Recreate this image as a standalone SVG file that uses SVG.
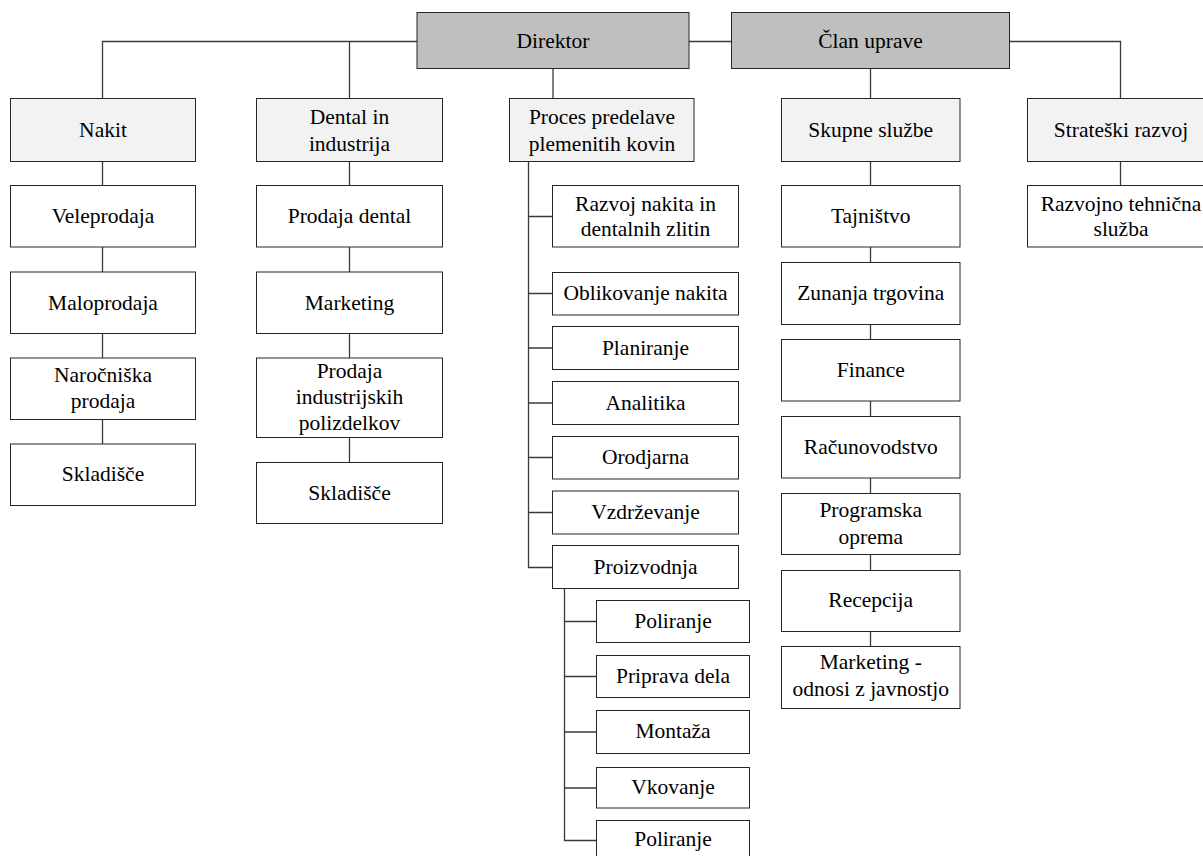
<svg xmlns="http://www.w3.org/2000/svg" width="1203" height="856" viewBox="0 0 1203 856">
<style>
.c{fill:none;stroke:#3a3a3a;stroke-width:1.3}
.b{fill:#ffffff;stroke:#262626;stroke-width:1}
.t0{fill:#bfbfbf;stroke:#262626;stroke-width:1}
.l2{fill:#f2f2f2;stroke:#262626;stroke-width:1}
.n text{fill:#000;text-anchor:middle}
</style>
<rect x="0" y="0" width="1203" height="856" fill="#ffffff"/>
<g id="connectors">
<path class="c" d="M102.5 98.5 V41.5 H417"/>
<path class="c" d="M349.5 41.5 V98.5"/>
<path class="c" d="M689 41.5 H731.5"/>
<path class="c" d="M553 68.5 V98.5"/>
<path class="c" d="M870.5 68.5 V98.5"/>
<path class="c" d="M1009.5 41.5 H1120.5 V98.5"/>
<path class="c" d="M102.5 161.5 V444"/>
<path class="c" d="M349.5 161.5 V462.5"/>
<path class="c" d="M528.5 161.5 V567.5 H552.5 M528.5 216.5 H552.5 M528.5 293.5 H552.5 M528.5 348 H552.5 M528.5 403 H552.5 M528.5 457.5 H552.5 M528.5 512.5 H552.5"/>
<path class="c" d="M564.5 588.5 V840.5 H596.5 M564.5 621.5 H596.5 M564.5 676.5 H596.5 M564.5 732 H596.5 M564.5 788 H596.5"/>
<path class="c" d="M870.5 161.5 V646.5"/>
<path class="c" d="M1120.5 161.5 V185.5"/>
</g>
<g class="n" font-family="'Liberation Serif', 'Times New Roman', 'DejaVu Serif', serif" font-size="21.5">
<g id="direktor"><rect class="t0" x="417" y="12.5" width="272" height="56"/><text x="553" y="47.5">Direktor</text></g>
<g id="clan-uprave"><rect class="t0" x="731.5" y="12.5" width="278" height="56"/><text x="870.5" y="47.5">Član uprave</text></g>

<g id="nakit"><rect class="l2" x="10.5" y="98.5" width="185" height="63"/><text x="103" y="137">Nakit</text></g>
<g id="dental"><rect class="l2" x="256.5" y="98.5" width="186" height="63"/><text x="349.5" y="124">Dental in</text><text x="349.5" y="151">industrija</text></g>
<g id="proces"><rect class="l2" x="509.5" y="98.5" width="184.5" height="63"/><text x="602" y="124">Proces predelave</text><text x="602" y="151">plemenitih kovin</text></g>
<g id="skupne"><rect class="l2" x="781.5" y="98.5" width="178.5" height="63"/><text x="870.75" y="137">Skupne službe</text></g>
<g id="strateski"><rect class="l2" x="1027.5" y="98.5" width="186" height="63"/><text x="1121" y="137">Strateški razvoj</text></g>

<g id="veleprodaja"><rect class="b" x="10.5" y="185.5" width="185" height="61.5"/><text x="103" y="223.3">Veleprodaja</text></g>
<g id="maloprodaja"><rect class="b" x="10.5" y="272" width="185" height="61.5"/><text x="103" y="309.5">Maloprodaja</text></g>
<g id="narocniska"><rect class="b" x="10.5" y="358" width="185" height="61.5"/><text x="103" y="382">Naročniška</text><text x="103" y="408">prodaja</text></g>
<g id="skladisce1"><rect class="b" x="10.5" y="444" width="185" height="61.5"/><text x="103" y="480.5">Skladišče</text></g>

<g id="prodaja-dental"><rect class="b" x="256.5" y="185.5" width="186" height="61.5"/><text x="349.5" y="223.3">Prodaja dental</text></g>
<g id="marketing1"><rect class="b" x="256.5" y="272" width="186" height="61.5"/><text x="349.5" y="309.5">Marketing</text></g>
<g id="prodaja-ind"><rect class="b" x="256.5" y="358" width="186" height="79.5"/><text x="349.5" y="377.5">Prodaja</text><text x="349.5" y="404">industrijskih</text><text x="349.5" y="430">polizdelkov</text></g>
<g id="skladisce2"><rect class="b" x="256.5" y="462.5" width="186" height="61"/><text x="349.5" y="499.5">Skladišče</text></g>

<g id="razvoj"><rect class="b" x="552.5" y="185.5" width="186" height="61.5"/><text x="645.5" y="210.5">Razvoj nakita in</text><text x="645.5" y="236">dentalnih zlitin</text></g>
<g id="oblikovanje"><rect class="b" x="552.5" y="272.5" width="186" height="42.5"/><text x="645.5" y="300">Oblikovanje nakita</text></g>
<g id="planiranje"><rect class="b" x="552.5" y="326.5" width="186" height="43"/><text x="645.5" y="354.5">Planiranje</text></g>
<g id="analitika"><rect class="b" x="552.5" y="381.5" width="186" height="43"/><text x="645.5" y="409.5">Analitika</text></g>
<g id="orodjarna"><rect class="b" x="552.5" y="436.5" width="186" height="42.5"/><text x="645.5" y="464">Orodjarna</text></g>
<g id="vzdrzevanje"><rect class="b" x="552.5" y="491" width="186" height="43"/><text x="645.5" y="519">Vzdrževanje</text></g>
<g id="proizvodnja"><rect class="b" x="552.5" y="545.5" width="186" height="43"/><text x="645.5" y="574">Proizvodnja</text></g>

<g id="poliranje1"><rect class="b" x="596.5" y="600.5" width="153" height="42"/><text x="673" y="628">Poliranje</text></g>
<g id="priprava"><rect class="b" x="596.5" y="655.5" width="153" height="42"/><text x="673" y="683">Priprava dela</text></g>
<g id="montaza"><rect class="b" x="596.5" y="710.5" width="153" height="43"/><text x="673" y="738">Montaža</text></g>
<g id="vkovanje"><rect class="b" x="596.5" y="767.5" width="153" height="40.5"/><text x="673" y="793.5">Vkovanje</text></g>
<g id="poliranje2"><rect class="b" x="596.5" y="820.5" width="153" height="42"/><text x="673" y="846">Poliranje</text></g>

<g id="tajnistvo"><rect class="b" x="781.5" y="185.5" width="178.5" height="61.5"/><text x="870.75" y="223">Tajništvo</text></g>
<g id="zunanja"><rect class="b" x="781.5" y="262.5" width="178.5" height="62"/><text x="870.75" y="300">Zunanja trgovina</text></g>
<g id="finance"><rect class="b" x="781.5" y="339.5" width="178.5" height="61.5"/><text x="870.75" y="377">Finance</text></g>
<g id="racunovodstvo"><rect class="b" x="781.5" y="416.5" width="178.5" height="61.5"/><text x="870.75" y="453.5">Računovodstvo</text></g>
<g id="programska"><rect class="b" x="781.5" y="493.5" width="178.5" height="61"/><text x="870.75" y="517.3">Programska</text><text x="870.75" y="544">oprema</text></g>
<g id="recepcija"><rect class="b" x="781.5" y="570.5" width="178.5" height="61"/><text x="870.75" y="607">Recepcija</text></g>
<g id="marketing2"><rect class="b" x="781.5" y="646.5" width="178.5" height="62"/><text x="870.75" y="669.3">Marketing -</text><text x="870.75" y="696">odnosi z javnostjo</text></g>

<g id="razvojno"><rect class="b" x="1027.5" y="185.5" width="186" height="61.5"/><text x="1121" y="210.5">Razvojno tehnična</text><text x="1121" y="236">služba</text></g>
</g>
</svg>
